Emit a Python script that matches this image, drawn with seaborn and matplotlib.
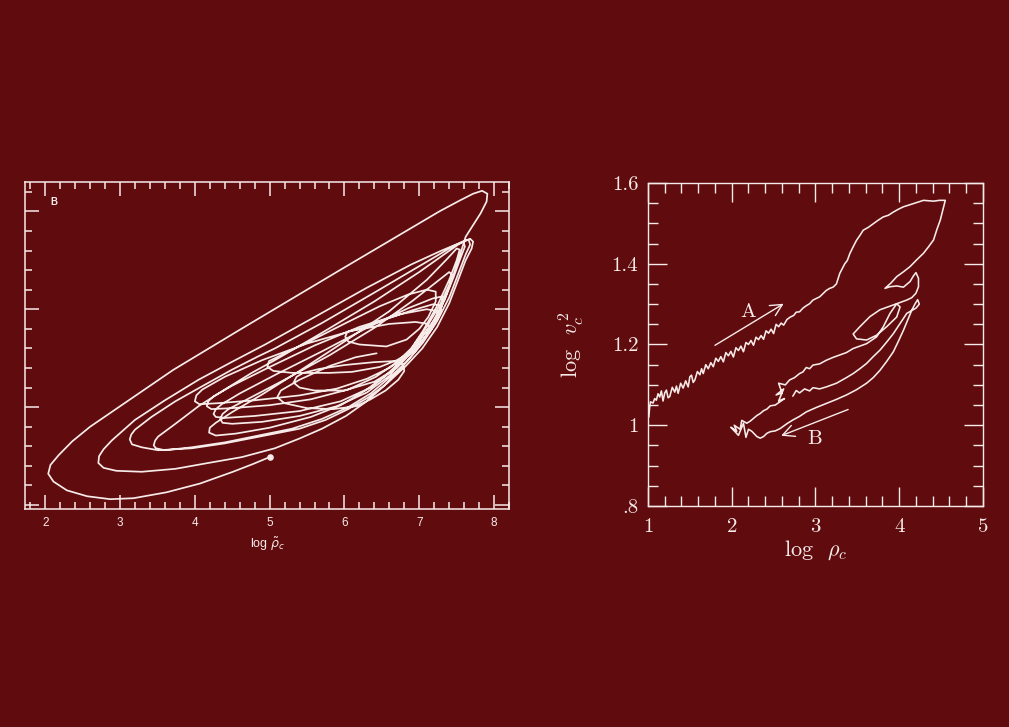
import matplotlib
matplotlib.use("Agg")
import matplotlib.pyplot as plt
import seaborn as sns
import pandas as pd
from matplotlib.ticker import MultipleLocator, FuncFormatter, NullFormatter

BG = "#600b0e"
INK = "#f7ebe9"

# ---------------- left panel: spiral orbit, x = log rho~_c, y unlabelled
outer_loop = [
    (5.00, 0.49), (4.78, 0.42), (4.51, 0.34), (4.07, 0.22), (3.62, 0.13), (3.18, 0.07),
    (2.87, 0.06), (2.56, 0.09), (2.29, 0.15), (2.11, 0.24), (2.04, 0.32), (2.07, 0.41),
    (2.18, 0.51), (2.36, 0.65), (2.60, 0.80), (3.71, 1.38), (4.60, 1.79), (5.94, 2.40),
    (7.27, 3.00), (7.54, 3.11), (7.72, 3.18), (7.84, 3.21), (7.91, 3.18), (7.90, 3.10),
    (7.82, 2.98), (7.72, 2.86), (7.62, 2.74), (7.55, 2.57), (7.46, 2.36), (7.34, 2.10),
    (7.18, 1.84), (6.98, 1.60), (6.76, 1.40), (6.52, 1.21), (6.28, 1.05), (6.02, 0.91),
    (5.70, 0.78), (5.40, 0.68), (5.07, 0.58), (4.63, 0.49), (4.18, 0.43), (3.74, 0.37),
    (3.29, 0.34), (2.95, 0.35), (2.78, 0.38), (2.71, 0.43),
]
loop_2 = [
    (2.72, 0.50), (2.78, 0.57), (2.89, 0.66), (3.20, 0.87), (3.60, 1.07), (4.05, 1.28),
    (4.49, 1.46), (4.94, 1.64), (5.60, 1.92), (6.30, 2.22), (6.90, 2.46), (7.30, 2.60),
    (7.55, 2.68), (7.68, 2.72), (7.72, 2.69), (7.70, 2.62), (7.62, 2.50), (7.52, 2.30),
    (7.40, 2.06), (7.24, 1.82), (7.04, 1.60), (6.82, 1.42), (6.58, 1.25), (6.32, 1.10),
    (6.05, 0.98), (5.75, 0.87), (5.40, 0.78), (5.07, 0.73), (4.40, 0.63), (3.96, 0.58),
    (3.51, 0.56), (3.29, 0.59), (3.16, 0.62), (3.13, 0.67),
]
loop_3 = [
    (3.15, 0.72), (3.20, 0.77), (3.42, 0.90), (3.74, 1.06), (4.09, 1.21), (4.49, 1.38),
    (4.85, 1.52), (5.07, 1.60), (5.70, 1.86), (6.40, 2.17), (7.00, 2.44), (7.40, 2.62),
    (7.58, 2.69), (7.66, 2.71), (7.68, 2.66), (7.62, 2.56), (7.52, 2.36), (7.40, 2.12),
    (7.24, 1.88), (7.05, 1.66), (6.84, 1.47), (6.60, 1.30), (6.35, 1.14), (6.05, 1.00),
    (5.70, 0.88), (5.30, 0.78), (4.85, 0.71), (4.40, 0.64), (3.96, 0.59), (3.60, 0.56),
    (3.48, 0.58), (3.45, 0.61),
]
loop_4 = [
    (3.47, 0.66), (3.51, 0.70), (3.74, 0.83), (4.05, 1.01), (4.40, 1.18), (4.76, 1.35),
    (5.07, 1.48), (5.70, 1.76), (6.40, 2.08), (7.00, 2.38), (7.35, 2.57), (7.52, 2.66),
    (7.59, 2.69), (7.61, 2.64), (7.55, 2.52), (7.46, 2.33), (7.34, 2.10), (7.18, 1.87),
    (7.00, 1.67), (6.80, 1.50), (6.56, 1.33), (6.28, 1.17), (5.95, 1.02), (5.55, 0.90),
    (5.00, 0.79), (4.55, 0.73), (4.28, 0.71), (4.19, 0.74),
]
loop_5 = [
    (4.20, 0.79), (4.28, 0.84), (4.50, 0.95), (4.90, 1.13), (5.40, 1.37), (6.00, 1.67),
    (6.60, 1.98), (7.10, 2.30), (7.38, 2.52), (7.50, 2.62), (7.54, 2.61), (7.50, 2.50),
    (7.40, 2.30), (7.25, 2.05), (7.05, 1.78), (6.85, 1.55), (6.60, 1.32), (6.30, 1.15),
    (5.90, 1.01), (5.40, 0.91), (4.90, 0.85), (4.50, 0.83), (4.37, 0.84), (4.34, 0.88),
]
loop_6 = [
    (4.37, 0.93), (4.45, 0.98), (4.70, 1.08), (5.20, 1.28), (5.80, 1.53), (6.40, 1.81),
    (6.90, 2.08), (7.25, 2.29), (7.40, 2.38), (7.44, 2.35), (7.40, 2.25), (7.28, 2.05),
    (7.10, 1.82), (6.90, 1.60), (6.65, 1.38), (6.35, 1.20), (5.95, 1.06), (5.40, 0.96),
    (4.80, 0.91), (4.40, 0.89), (4.28, 0.90), (4.25, 0.93),
]
loop_7 = [
    (4.28, 0.98), (4.36, 1.03), (4.60, 1.14), (5.10, 1.34), (5.70, 1.57), (6.30, 1.81),
    (6.85, 2.01), (7.18, 2.11), (7.30, 2.13), (7.32, 2.07), (7.26, 1.96), (7.12, 1.80),
    (6.92, 1.62), (6.70, 1.46), (6.42, 1.31), (6.05, 1.18), (5.55, 1.08), (5.00, 1.02),
    (4.50, 0.99), (4.22, 0.98), (4.16, 1.01),
]
loop_8 = [
    (4.18, 1.06), (4.25, 1.11), (4.50, 1.22), (5.00, 1.41), (5.60, 1.63), (6.20, 1.82),
    (6.75, 1.95), (7.10, 2.00), (7.24, 1.98), (7.25, 1.92), (7.18, 1.82), (7.05, 1.68),
    (6.85, 1.53), (6.60, 1.40), (6.30, 1.29), (5.90, 1.19), (5.40, 1.12), (4.80, 1.07),
    (4.30, 1.04), (4.06, 1.03), (4.00, 1.06),
]
loop_9 = [
    (4.02, 1.12), (4.10, 1.18), (4.40, 1.31), (4.90, 1.48), (5.50, 1.65), (6.10, 1.78),
    (6.60, 1.85), (6.95, 1.87), (7.12, 1.85), (7.14, 1.79), (7.05, 1.68), (6.90, 1.57),
    (6.70, 1.48), (6.47, 1.41), (6.10, 1.36), (5.80, 1.35), (5.30, 1.35), (5.05, 1.37),
    (4.97, 1.41),
]
loop_10 = [
    (4.99, 1.47), (5.15, 1.53), (5.58, 1.69), (6.02, 1.86), (6.47, 2.03), (6.85, 2.15),
    (7.10, 2.20), (7.22, 2.18), (7.22, 2.08), (7.12, 1.92), (7.00, 1.80), (6.83, 1.69),
    (6.56, 1.62), (6.20, 1.64), (6.05, 1.67), (6.01, 1.72),
]
loop_11 = [
    (6.04, 1.77), (6.20, 1.80), (6.56, 1.90), (6.91, 1.99), (7.18, 2.05), (7.30, 2.04),
    (7.28, 1.95), (7.15, 1.78), (6.95, 1.60), (6.70, 1.40), (6.40, 1.26), (6.00, 1.17),
    (5.60, 1.17), (5.40, 1.20), (5.32, 1.25),
]
inner_lobe = [
    (5.36, 1.31), (5.45, 1.35), (5.66, 1.39), (6.00, 1.43), (6.40, 1.46), (6.65, 1.47),
    (6.78, 1.44), (6.80, 1.37), (6.72, 1.28), (6.55, 1.17), (6.35, 1.08), (6.16, 1.01),
    (5.85, 0.98), (5.50, 0.99), (5.20, 1.04), (5.10, 1.10), (5.15, 1.17), (5.40, 1.28),
    (5.80, 1.42), (6.15, 1.51), (6.43, 1.55),
]
spiral_segments = [outer_loop, loop_2, loop_3, loop_4, loop_5, loop_6, loop_7,
                   loop_8, loop_9, loop_10, loop_11, inner_lobe]
start_point = (5.00, 0.49)

# ---------------- right panel: log v_c^2 vs log rho_c
upper_branch = [
    (1.01, 1.020), (1.02, 1.045), (1.03, 1.058), (1.06, 1.055), (1.08, 1.066), (1.10, 1.062),
    (1.12, 1.078), (1.14, 1.070), (1.16, 1.085), (1.18, 1.060), (1.20, 1.080), (1.22, 1.087),
    (1.24, 1.068), (1.26, 1.071), (1.29, 1.094), (1.32, 1.082), (1.34, 1.097), (1.36, 1.079),
    (1.39, 1.104), (1.42, 1.092), (1.45, 1.110), (1.48, 1.095), (1.50, 1.120), (1.52, 1.124),
    (1.54, 1.106), (1.56, 1.112), (1.59, 1.133), (1.62, 1.125), (1.64, 1.140), (1.66, 1.128),
    (1.69, 1.150), (1.72, 1.140), (1.75, 1.155), (1.78, 1.145), (1.81, 1.166), (1.84, 1.158),
    (1.87, 1.170), (1.90, 1.157), (1.93, 1.180), (1.96, 1.172), (1.99, 1.183), (2.02, 1.169),
    (2.05, 1.192), (2.08, 1.185), (2.11, 1.196), (2.14, 1.182), (2.17, 1.205), (2.20, 1.200),
    (2.23, 1.210), (2.26, 1.198), (2.29, 1.218), (2.32, 1.212), (2.35, 1.222), (2.38, 1.213),
    (2.41, 1.234), (2.44, 1.228), (2.47, 1.238), (2.50, 1.227), (2.53, 1.250), (2.56, 1.244),
    (2.59, 1.253), (2.62, 1.248), (2.66, 1.262), (2.70, 1.268), (2.74, 1.272), (2.77, 1.280),
    (2.81, 1.281), (2.85, 1.290), (2.89, 1.296), (2.93, 1.301), (2.97, 1.310), (3.01, 1.314),
    (3.05, 1.318), (3.09, 1.326), (3.13, 1.334), (3.17, 1.339), (3.21, 1.342), (3.25, 1.350),
    (3.29, 1.376), (3.32, 1.388), (3.35, 1.400), (3.38, 1.408), (3.41, 1.425), (3.45, 1.442),
    (3.49, 1.458), (3.53, 1.470), (3.57, 1.483), (3.63, 1.490), (3.69, 1.499), (3.75, 1.508),
    (3.81, 1.516), (3.87, 1.520), (3.93, 1.528), (3.99, 1.535), (4.05, 1.541), (4.11, 1.545),
    (4.17, 1.549), (4.23, 1.553), (4.29, 1.557), (4.35, 1.556), (4.41, 1.555), (4.48, 1.557),
    (4.55, 1.557),
]
falling_edge = [
    (4.52, 1.532), (4.49, 1.508), (4.45, 1.485), (4.41, 1.459), (4.35, 1.442), (4.29, 1.426),
    (4.21, 1.410), (4.13, 1.393), (4.05, 1.380), (3.97, 1.368), (3.90, 1.352), (3.83, 1.339),
    (3.89, 1.343), (3.97, 1.345), (4.05, 1.342), (4.13, 1.356), (4.17, 1.370), (4.20, 1.378),
    (4.23, 1.364), (4.23, 1.343), (4.20, 1.327), (4.15, 1.316), (4.09, 1.310),
]
tangle = [
    (3.93, 1.298), (3.77, 1.286), (3.65, 1.269), (3.53, 1.244), (3.45, 1.226), (3.49, 1.214),
    (3.61, 1.211), (3.73, 1.223), (3.85, 1.244), (3.97, 1.268), (4.01, 1.293), (3.97, 1.301),
    (3.89, 1.277), (3.81, 1.244), (3.73, 1.219),
]
middle_lobe = [
    (3.61, 1.202), (3.53, 1.196), (3.45, 1.190), (3.37, 1.180), (3.29, 1.174), (3.21, 1.168),
    (3.13, 1.161), (3.05, 1.152), (2.97, 1.149), (2.93, 1.140), (2.89, 1.143), (2.85, 1.132),
    (2.81, 1.128), (2.75, 1.118), (2.69, 1.112), (2.64, 1.100), (2.56, 1.104), (2.60, 1.080),
    (2.53, 1.075), (2.62, 1.090), (2.56, 1.060), (2.63, 1.066), (2.52, 1.050), (2.46, 1.048),
    (2.42, 1.040), (2.38, 1.036), (2.34, 1.029), (2.30, 1.024), (2.26, 1.017), (2.22, 1.010),
    (2.18, 1.005), (2.12, 1.012), (2.10, 0.990), (2.03, 1.000), (2.06, 0.985), (1.99, 0.995),
    (2.08, 0.975), (2.14, 1.005), (2.17, 0.970), (2.20, 0.990),
]
lower_ribbon = [
    (2.24, 0.985), (2.30, 0.972), (2.34, 0.968), (2.38, 0.972), (2.42, 0.980), (2.46, 0.984),
    (2.52, 0.986), (2.58, 0.992), (2.66, 1.004), (2.73, 1.013), (2.81, 1.022), (2.89, 1.033),
    (3.01, 1.044), (3.13, 1.054), (3.25, 1.064), (3.37, 1.075), (3.49, 1.088), (3.61, 1.104),
    (3.69, 1.118), (3.77, 1.136), (3.85, 1.158), (3.93, 1.182), (3.99, 1.208), (4.05, 1.235),
    (4.10, 1.260), (4.15, 1.285), (4.19, 1.301), (4.22, 1.311), (4.24, 1.300), (4.20, 1.290),
    (4.09, 1.277), (4.01, 1.252), (3.93, 1.227), (3.85, 1.206), (3.77, 1.186), (3.69, 1.170),
    (3.61, 1.153), (3.53, 1.140), (3.45, 1.128), (3.37, 1.118), (3.25, 1.104), (3.13, 1.095),
    (3.05, 1.090), (2.97, 1.093), (2.93, 1.085), (2.87, 1.090), (2.81, 1.080), (2.77, 1.086),
    (2.73, 1.072),
]
track_segments = [upper_branch, falling_edge, tangle, middle_lobe, lower_ribbon]

arrow_a = ((1.80, 1.198), (2.62, 1.301))
arrow_b = ((3.39, 1.039), (2.59, 0.974))
label_a = (2.20, 1.281)
label_b = (2.99, 0.967)


def to_frame(segments):
    pts = [p for seg in segments for p in seg]
    return pd.DataFrame(pts, columns=["x", "y"])


def style_axes(ax, lw, major_len, minor_len):
    ax.set_facecolor(BG)
    for s in ax.spines.values():
        s.set_color(INK)
        s.set_linewidth(lw)
    ax.tick_params(which="both", direction="in", top=True, right=True,
                   color=INK, labelcolor=INK, width=lw)
    ax.tick_params(which="major", length=major_len)
    ax.tick_params(which="minor", length=minor_len)


sns.set_theme(style="ticks")
plt.rcParams["font.family"] = ["DejaVu Sans"]

fig = plt.figure(figsize=(10.09, 7.27), dpi=100, facecolor=BG)
ax_l = fig.add_axes([0.0248, 0.2999, 0.4797, 0.4498])
ax_r = fig.add_axes([0.6422, 0.304, 0.332, 0.4443])

# left panel
spiral = to_frame(spiral_segments)
sns.lineplot(data=spiral, x="x", y="y", sort=False, estimator=None,
             color=INK, linewidth=1.25, ax=ax_l)
ax_l.scatter([start_point[0]], [start_point[1]], s=14, color=INK, zorder=3)
style_axes(ax_l, 1.1, 10, 5)
ax_l.set_xlim(1.73, 8.2)
ax_l.set_ylim(-0.04, 3.30)
ax_l.xaxis.set_major_locator(MultipleLocator(1))
ax_l.xaxis.set_minor_locator(MultipleLocator(0.2))
ax_l.yaxis.set_major_locator(MultipleLocator(1))
ax_l.yaxis.set_minor_locator(MultipleLocator(0.2))
ax_l.yaxis.set_major_formatter(NullFormatter())
ax_l.tick_params(axis="x", labelsize=8.5, pad=6)
for t in ax_l.get_xticklabels():
    t.set_family("Liberation Sans")
ax_l.set_ylabel("")
ax_l.set_xlabel(r"log $\tilde{\rho}_c$", fontsize=9, color=INK,
                family="Liberation Sans", math_fontfamily="dejavusans")
ax_l.xaxis.set_label_coords(0.5, -0.08)
ax_l.text(2.11, 3.10, "B", fontsize=7, fontweight="bold", color=INK,
          family="Liberation Sans", ha="center", va="center")

# right panel
track = to_frame(track_segments)
sns.lineplot(data=track, x="x", y="y", sort=False, estimator=None,
             color=INK, linewidth=1.15, ax=ax_r)
style_axes(ax_r, 1.0, 14, 7)
ax_r.set_xlim(1, 5)
ax_r.set_ylim(0.8, 1.6)
ax_r.xaxis.set_major_locator(MultipleLocator(1))
ax_r.xaxis.set_minor_locator(MultipleLocator(0.2))
ax_r.yaxis.set_major_locator(MultipleLocator(0.2))
ax_r.yaxis.set_minor_locator(MultipleLocator(0.05))
ax_r.yaxis.set_major_formatter(FuncFormatter(lambda v, p: f"{v:g}".lstrip("0")))
ax_r.xaxis.set_major_formatter(FuncFormatter(lambda v, p: f"{v:g}"))
ax_r.tick_params(axis="x", labelsize=15, pad=9)
ax_r.tick_params(axis="y", labelsize=15, pad=7)
for t in ax_r.get_xticklabels() + ax_r.get_yticklabels():
    t.set_family("cmr10")
ax_r.set_xlabel(r"log  $\rho_c$", fontsize=16, color=INK, family="cmr10",
                math_fontfamily="cm")
ax_r.set_ylabel(r"log  $v_c^{\,2}$", fontsize=16, color=INK, family="cmr10",
                math_fontfamily="cm")
ax_r.xaxis.set_label_coords(0.5, -0.10)
ax_r.yaxis.set_label_coords(-0.185, 0.5)

head = "->,head_length=0.7,head_width=0.35"
for (start, end) in (arrow_a, arrow_b):
    ax_r.annotate("", xy=end, xytext=start,
                  arrowprops=dict(arrowstyle=head, color=INK, lw=1.0,
                                  shrinkA=0, shrinkB=0))
ax_r.text(*label_a, "A", fontsize=15, color=INK, family="cmr10",
          ha="center", va="center")
ax_r.text(*label_b, "B", fontsize=15, color=INK, family="cmr10",
          ha="center", va="center")

fig.savefig("out.png", dpi=100, facecolor=BG)
